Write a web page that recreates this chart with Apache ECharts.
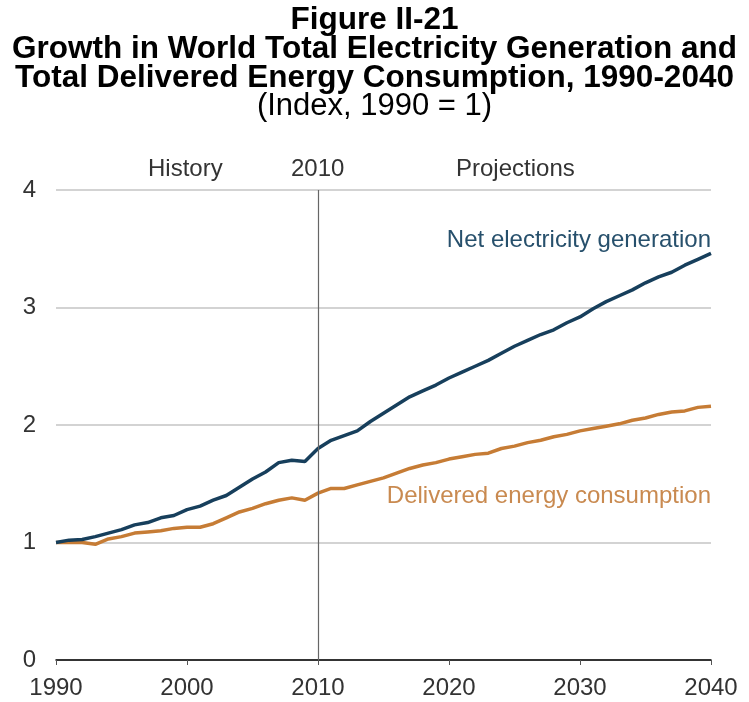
<!DOCTYPE html>
<html><head><meta charset="utf-8">
<script src="https://cdn.jsdelivr.net/npm/echarts@6/dist/echarts.min.js"></script>
<style>html,body{margin:0;padding:0;background:#fff}#c{width:749px;height:702px}</style>
</head><body><div id="c"></div>
<script>
const years = [];
for (let y = 1990; y <= 2040; y++) years.push(y);
const netElectricity = [1.00,1.02,1.025,1.05,1.08,1.11,1.15,1.17,1.21,1.23,1.28,1.31,1.36,1.40,1.47,1.54,1.60,1.68,1.70,1.69,1.80,1.87,1.91,1.95,2.03,2.10,2.17,2.24,2.29,2.34,2.40,2.45,2.50,2.55,2.61,2.67,2.72,2.77,2.81,2.87,2.92,2.99,3.05,3.10,3.15,3.21,3.26,3.30,3.36,3.41,3.46];
const deliveredEnergy = [1.00,1.00,1.00,0.985,1.03,1.05,1.08,1.09,1.10,1.12,1.13,1.13,1.16,1.21,1.26,1.29,1.33,1.36,1.38,1.36,1.42,1.46,1.46,1.49,1.52,1.55,1.59,1.63,1.66,1.68,1.71,1.73,1.75,1.76,1.80,1.82,1.85,1.87,1.90,1.92,1.95,1.97,1.99,2.01,2.04,2.06,2.09,2.11,2.12,2.15,2.16];
const xTicks = [1990,2000,2010,2020,2030,2040];
const yTicks = [0,1,2,3,4];
const titleLines = ['Figure II-21','Growth in World Total Electricity Generation and','Total Delivered Energy Consumption, 1990-2040'];
const subtitle = '(Index, 1990 = 1)';
const periodLabels = ['History','2010','Projections'];
const seriesNames = ['Net electricity generation','Delivered energy consumption'];

const chart = echarts.init(document.getElementById('c'), null, {renderer:'canvas'});
const TF = '"Liberation Sans Narrow","Arial Narrow","Liberation Sans",Arial,sans-serif';
const F = '"Liberation Sans",Arial,sans-serif';
const titles = titleLines.map((t,i)=>({text:t,left:'center',top:-1+i*29,textStyle:{fontFamily:TF,fontSize:31.5,fontWeight:'bold',color:'#000'}}));
titles.push({text:subtitle,left:'center',top:86,textStyle:{fontFamily:TF,fontSize:31,fontWeight:'normal',color:'#000'}});
chart.setOption({
  animation:false,
  backgroundColor:'#fff',
  title:titles,
  grid:{left:56,right:38,top:190,bottom:42,containLabel:false},
  xAxis:{type:'value',min:1990,max:2040,interval:10,
    axisLine:{show:true,onZero:false,lineStyle:{color:'#000',width:1.5}},
    axisTick:{show:true,length:5,lineStyle:{color:'#555'}},
    axisLabel:{fontFamily:F,fontSize:24,color:'#333',margin:16,formatter:v=>xTicks.includes(v)?String(v):''},
    splitLine:{show:false}},
  yAxis:{type:'value',min:0,max:4,interval:1,
    axisLine:{show:false},axisTick:{show:false},
    axisLabel:{fontFamily:F,fontSize:24,color:'#333',margin:20,formatter:v=>yTicks.includes(v)?String(v):''},
    splitLine:{show:true,lineStyle:{color:'#c4c4c4',width:1.5}}},
  graphic:[
    {type:'text',left:148,top:157,style:{text:periodLabels[0],font:'24px '+F,fill:'#333'}},
    {type:'text',left:291,top:157,style:{text:periodLabels[1],font:'24px '+F,fill:'#333'}},
    {type:'text',left:456,top:157,style:{text:periodLabels[2],font:'24px '+F,fill:'#333'}},
    {type:'text',right:38,top:228,style:{text:seriesNames[0],font:'24px '+F,fill:'#27506c'}},
    {type:'text',right:38,top:484,style:{text:seriesNames[1],font:'24px '+F,fill:'#c98a50'}}
  ],
  series:[
    {name:seriesNames[0],type:'line',showSymbol:false,smooth:false,
     data:years.map((y,i)=>[y,netElectricity[i]]),
     lineStyle:{color:'#173f5c',width:3.5},z:3,
     markLine:{silent:true,symbol:'none',label:{show:false},lineStyle:{color:'#666',width:1.2,type:'solid'},data:[{xAxis:2010}]}},
    {name:seriesNames[1],type:'line',showSymbol:false,smooth:false,
     data:years.map((y,i)=>[y,deliveredEnergy[i]]),
     lineStyle:{color:'#c67c35',width:3.5},z:2}
  ]
});
</script></body></html>
